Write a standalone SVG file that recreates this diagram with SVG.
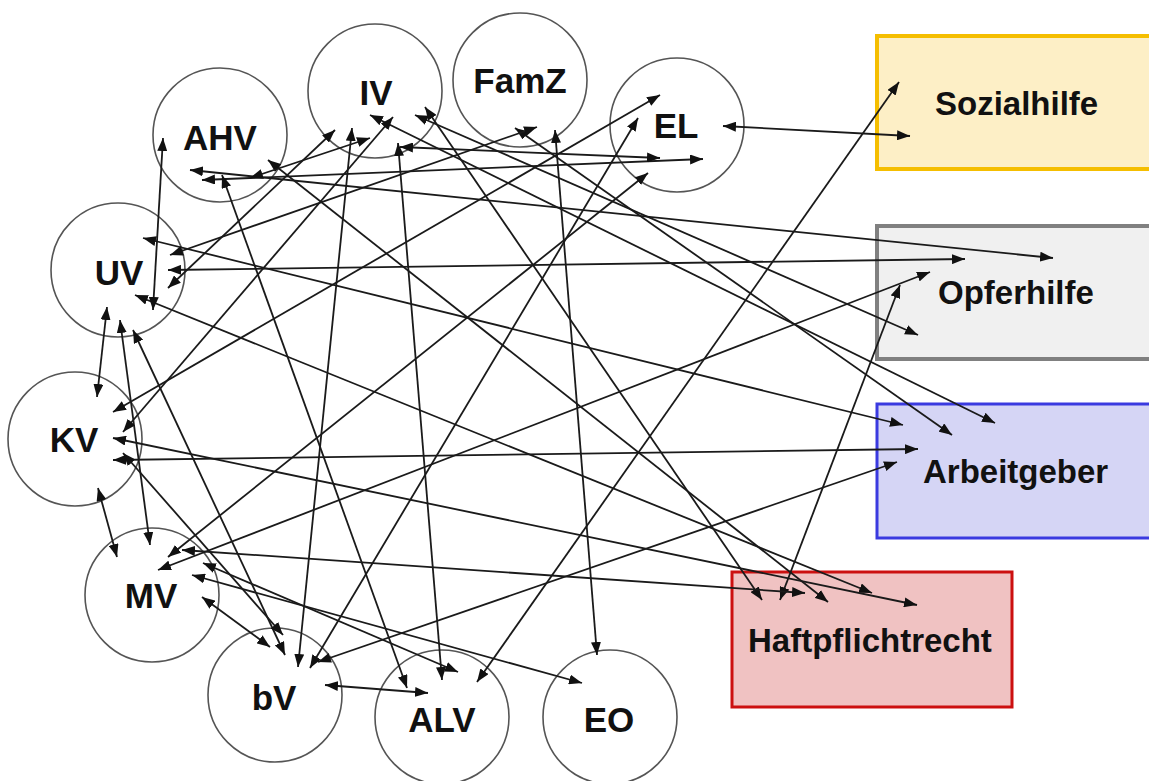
<svg xmlns="http://www.w3.org/2000/svg" width="1149" height="781" viewBox="0 0 1149 781">
<style>
.c{fill:#fff;stroke:#555;stroke-width:1.6}
.lbl{font-family:"Liberation Sans",Arial,sans-serif;font-weight:bold;font-size:35px;fill:#111;text-anchor:middle}
.blbl{font-family:"Liberation Sans",Arial,sans-serif;font-weight:bold;font-size:33px;fill:#111}
#edges line{stroke:#1a1a1a;stroke-width:1.8;marker-start:url(#ah);marker-end:url(#ah)}
</style>
<defs>
<marker id="ah" viewBox="0 0 13 10" markerUnits="userSpaceOnUse" markerWidth="13" markerHeight="10" refX="13" refY="5" orient="auto-start-reverse">
<path d="M0,0 L13,5 L0,10 z" fill="#111"/>
</marker>
</defs>
<rect width="1149" height="781" fill="#fff"/>
<g id="Sozialhilfe"><rect x="877" y="36" width="290" height="133" fill="#FDEFC6" stroke="#F5BE00" stroke-width="4"/><text class="blbl" x="935" y="115">Sozialhilfe</text></g>
<g id="Opferhilfe"><rect x="877" y="226" width="290" height="133" fill="#F0F0F0" stroke="#808080" stroke-width="4"/><text class="blbl" x="938" y="304">Opferhilfe</text></g>
<g id="Arbeitgeber"><rect x="877" y="404" width="290" height="134" fill="#D5D5F5" stroke="#3A3AE0" stroke-width="3"/><text class="blbl" x="923" y="483">Arbeitgeber</text></g>
<g id="Haftpflichtrecht"><rect x="732" y="572" width="280" height="135" fill="#F0C2C2" stroke="#CC1010" stroke-width="3"/><text class="blbl" x="748" y="652">Haftpflichtrecht</text></g>
<g id="AHV"><circle class="c" cx="220" cy="135" r="67"/><text class="lbl" x="220" y="150">AHV</text></g>
<g id="IV"><circle class="c" cx="375" cy="91" r="67"/><text class="lbl" x="376" y="105">IV</text></g>
<g id="FamZ"><circle class="c" cx="520" cy="80" r="67"/><text class="lbl" x="520" y="93">FamZ</text></g>
<g id="EL"><circle class="c" cx="677" cy="125" r="67"/><text class="lbl" x="676" y="138">EL</text></g>
<g id="UV"><circle class="c" cx="118" cy="270" r="67"/><text class="lbl" x="119" y="285">UV</text></g>
<g id="KV"><circle class="c" cx="75" cy="439" r="67"/><text class="lbl" x="74" y="452">KV</text></g>
<g id="MV"><circle class="c" cx="152" cy="595" r="67"/><text class="lbl" x="151" y="608">MV</text></g>
<g id="bV"><circle class="c" cx="275" cy="695" r="67"/><text class="lbl" x="274" y="710">bV</text></g>
<g id="ALV"><circle class="c" cx="442" cy="717" r="67"/><text class="lbl" x="442" y="732">ALV</text></g>
<g id="EO"><circle class="c" cx="610" cy="717" r="67"/><text class="lbl" x="609" y="732">EO</text></g>
<g id="edges">
<line x1="723" y1="126" x2="910" y2="136"/>
<line x1="477" y1="682" x2="899" y2="82"/>
<line x1="190" y1="170" x2="1053" y2="258"/>
<line x1="168" y1="270" x2="965" y2="259"/>
<line x1="158" y1="570" x2="930" y2="272"/>
<line x1="780" y1="600" x2="900" y2="285"/>
<line x1="415" y1="115" x2="918" y2="335"/>
<line x1="143" y1="238" x2="903" y2="425"/>
<line x1="515" y1="128" x2="952" y2="435"/>
<line x1="370" y1="115" x2="995" y2="423"/>
<line x1="113" y1="460" x2="918" y2="449"/>
<line x1="318" y1="662" x2="897" y2="462"/>
<line x1="425" y1="107" x2="762" y2="600"/>
<line x1="182" y1="550" x2="805" y2="593"/>
<line x1="268" y1="160" x2="828" y2="602"/>
<line x1="135" y1="295" x2="872" y2="593"/>
<line x1="113" y1="438" x2="917" y2="605"/>
<line x1="163" y1="138" x2="153" y2="310"/>
<line x1="202" y1="180" x2="703" y2="159"/>
<line x1="250" y1="178" x2="370" y2="138"/>
<line x1="222" y1="175" x2="407" y2="688"/>
<line x1="170" y1="255" x2="537" y2="127"/>
<line x1="168" y1="288" x2="335" y2="130"/>
<line x1="107" y1="307" x2="97" y2="397"/>
<line x1="120" y1="320" x2="150" y2="545"/>
<line x1="133" y1="330" x2="285" y2="655"/>
<line x1="113" y1="412" x2="660" y2="95"/>
<line x1="123" y1="432" x2="393" y2="117"/>
<line x1="123" y1="453" x2="283" y2="635"/>
<line x1="98" y1="488" x2="117" y2="557"/>
<line x1="168" y1="557" x2="648" y2="173"/>
<line x1="203" y1="563" x2="458" y2="672"/>
<line x1="192" y1="575" x2="582" y2="683"/>
<line x1="202" y1="597" x2="270" y2="647"/>
<line x1="352" y1="128" x2="298" y2="667"/>
<line x1="638" y1="118" x2="310" y2="668"/>
<line x1="325" y1="685" x2="428" y2="693"/>
<line x1="398" y1="143" x2="442" y2="680"/>
<line x1="400" y1="147" x2="660" y2="158"/>
<line x1="555" y1="130" x2="597" y2="655"/>
</g>
</svg>
